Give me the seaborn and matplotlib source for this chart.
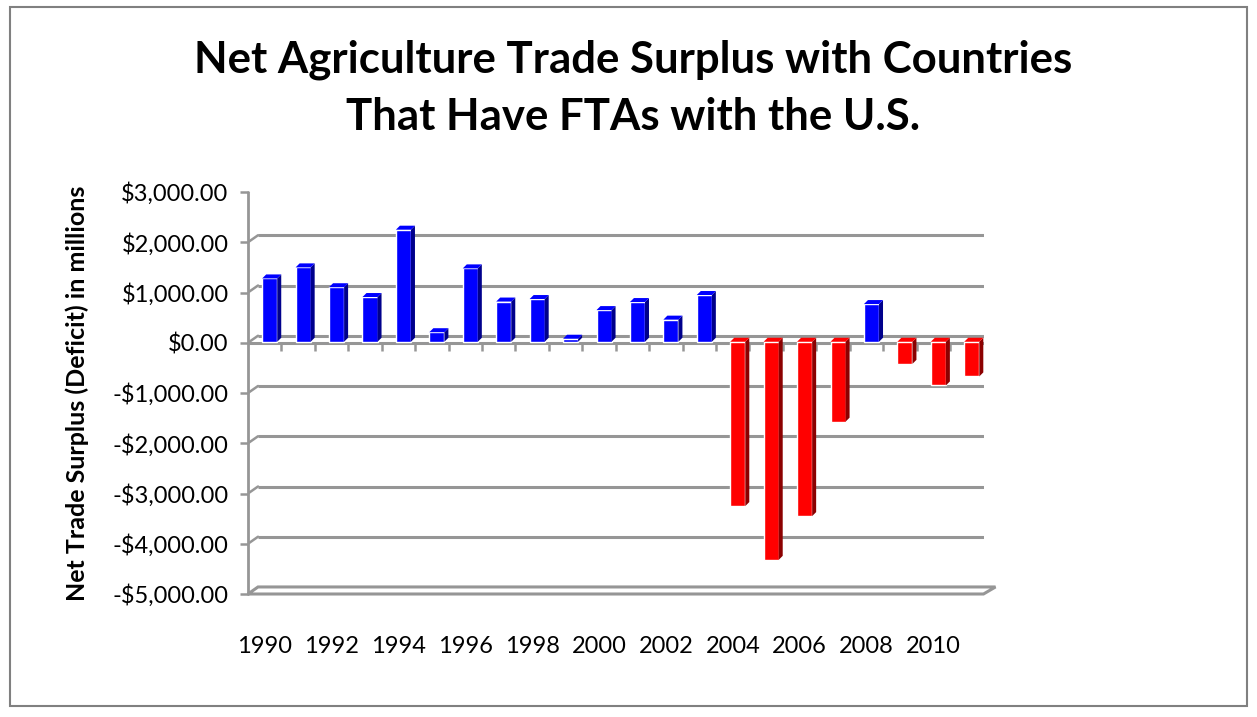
import numpy as np
import pandas as pd
import matplotlib
matplotlib.use("Agg")
import matplotlib.pyplot as plt
import matplotlib.transforms as mtransforms
from matplotlib.patches import Polygon, Rectangle
import seaborn as sns

# data (millions of dollars)
years = list(range(1990, 2012))
surplus = [1260, 1480, 1085, 890, 2230, 190, 1460, 800, 850, 60, 630,
           790, 440, 930, -3270, -4340, -3470, -1590, 750, -440, -870, -690]
tick_years = list(range(1990, 2011, 2))
title_lines = ["Net Agriculture Trade Surplus with Countries",
               "That Have FTAs with the U.S."]

df = pd.DataFrame({"year": [str(y) for y in years], "value": surplus})
df["sign"] = np.where(df["value"] >= 0, "pos", "neg")

sns.set_style("white")
plt.rcParams["font.family"] = ["Lato", "DejaVu Sans"]

fig = plt.figure(figsize=(12.57, 7.17), dpi=100)
ax = fig.add_axes([248 / 1257, 1 - 594 / 717, 735.5 / 1257, 402 / 717])

sns.barplot(data=df, x="year", y="value", hue="sign",
            palette={"pos": "#0000FF", "neg": "#FF0000"},
            width=0.45, dodge=False, legend=False, saturation=1, ax=ax)

ax.set_ylim(-5000, 3000)
ax.set_xlim(-0.5, len(years) - 0.5)
for s in ax.spines.values():
    s.set_visible(False)

grid_c = "#969696"
back = mtransforms.offset_copy(
    mtransforms.blended_transform_factory(ax.transAxes, ax.transData),
    fig=fig, x=10, y=7, units="dots")
left_front = mtransforms.blended_transform_factory(ax.transAxes, ax.transData)

# back wall gridlines and the little slanted joints to the axis
for v in range(-4000, 3001, 1000):
    ax.plot([0, 1], [v, v], color=grid_c, lw=2.2, transform=back, zorder=0,
            solid_capstyle="butt")
    ax.plot([0.0, 0.0 + 10 / 735.5], [v, v + 7 * 8000 / 402],
            color=grid_c, lw=1.8, transform=left_front, zorder=0)

# vertical axis + ticks
ax.plot([0, 0], [-5000, 3000], color=grid_c, lw=2.0, transform=left_front,
        zorder=1, clip_on=False)
ax.set_yticks(range(-5000, 3001, 1000))
ax.yaxis.set_major_formatter(
    matplotlib.ticker.FuncFormatter(lambda v, p: ("-$" if v < 0 else "$") + f"{abs(v):,.2f}"))
ax.tick_params(axis="y", length=6, width=1.8, color=grid_c, labelsize=17,
               pad=8, left=True, labelcolor="black")

# floor
floor = Polygon([[0, -5000], [1, -5000], [1 + 12 / 735.5, -5000 + 7 * 20],
                 [0 + 10 / 735.5, -5000 + 7 * 20]], closed=True,
                fill=False, edgecolor=grid_c, lw=2.2,
                transform=left_front, clip_on=False, zorder=0)
ax.add_patch(floor)

# category axis along zero
ax.plot([0, 1], [0, 0], color=grid_c, lw=2.2, transform=left_front,
        zorder=1, solid_capstyle="butt")
ax.vlines([i + 0.5 for i in range(len(years) - 1)], -160, 0,
          color=grid_c, lw=1.8, zorder=1)

# give the bars a bit of depth, in the spirit of the original 3-D chart
shift = mtransforms.offset_copy(ax.transData, fig=fig, x=5, y=1, units="dots")
px_x = 1 / 33.43
px_y = 8000 / 402
for p in list(ax.patches):
    if not isinstance(p, Rectangle) or p.get_width() == 0:
        continue
    p.set_transform(shift)
    p.set_zorder(3)
    x0, w = p.get_x(), p.get_width()
    y0, h = p.get_y(), p.get_height()
    fc = p.get_facecolor()
    dark = tuple(c * 0.55 for c in fc[:3])
    y_lo, y_hi = min(y0, y0 + h), max(y0, y0 + h)
    dx, dy = 4 * px_x, 4 * px_y
    side = Polygon([[x0 + w, y_lo], [x0 + w + dx, y_lo + dy],
                    [x0 + w + dx, y_hi + dy], [x0 + w, y_hi]],
                   closed=True, facecolor=dark, edgecolor="none",
                   transform=shift, zorder=3)
    top = Polygon([[x0, y_hi], [x0 + dx, y_hi + dy], [x0 + w + dx, y_hi + dy],
                   [x0 + w, y_hi]], closed=True, facecolor=fc,
                  edgecolor="none", transform=shift, zorder=3)
    ax.add_patch(side)
    ax.add_patch(top)

ax.set_xticks([years.index(y) for y in tick_years])
ax.set_xticklabels([str(y) for y in tick_years])
ax.tick_params(axis="x", length=0, labelsize=17, pad=30, labelcolor="black")
ax.set_xlabel("")
ax.set_ylabel("Net Trade Surplus (Deficit) in millions", fontsize=18,
              fontweight="bold", color="black", labelpad=17)

# title, two lines
fig.text(633 / 1257, 1 - 73 / 717, title_lines[0], ha="center", va="baseline",
         fontsize=31.5, fontweight="bold", color="black")
fig.text(633 / 1257, 1 - 130 / 717, title_lines[1], ha="center", va="baseline",
         fontsize=31.5, fontweight="bold", color="black")

# outer frame of the chart area
fig.add_artist(Rectangle((10 / 1257, 1 - 706 / 717), 1237 / 1257, 699 / 717,
                         transform=fig.transFigure, fill=False,
                         edgecolor="#808080", lw=1.5))

fig.savefig("out.png", dpi=100)
